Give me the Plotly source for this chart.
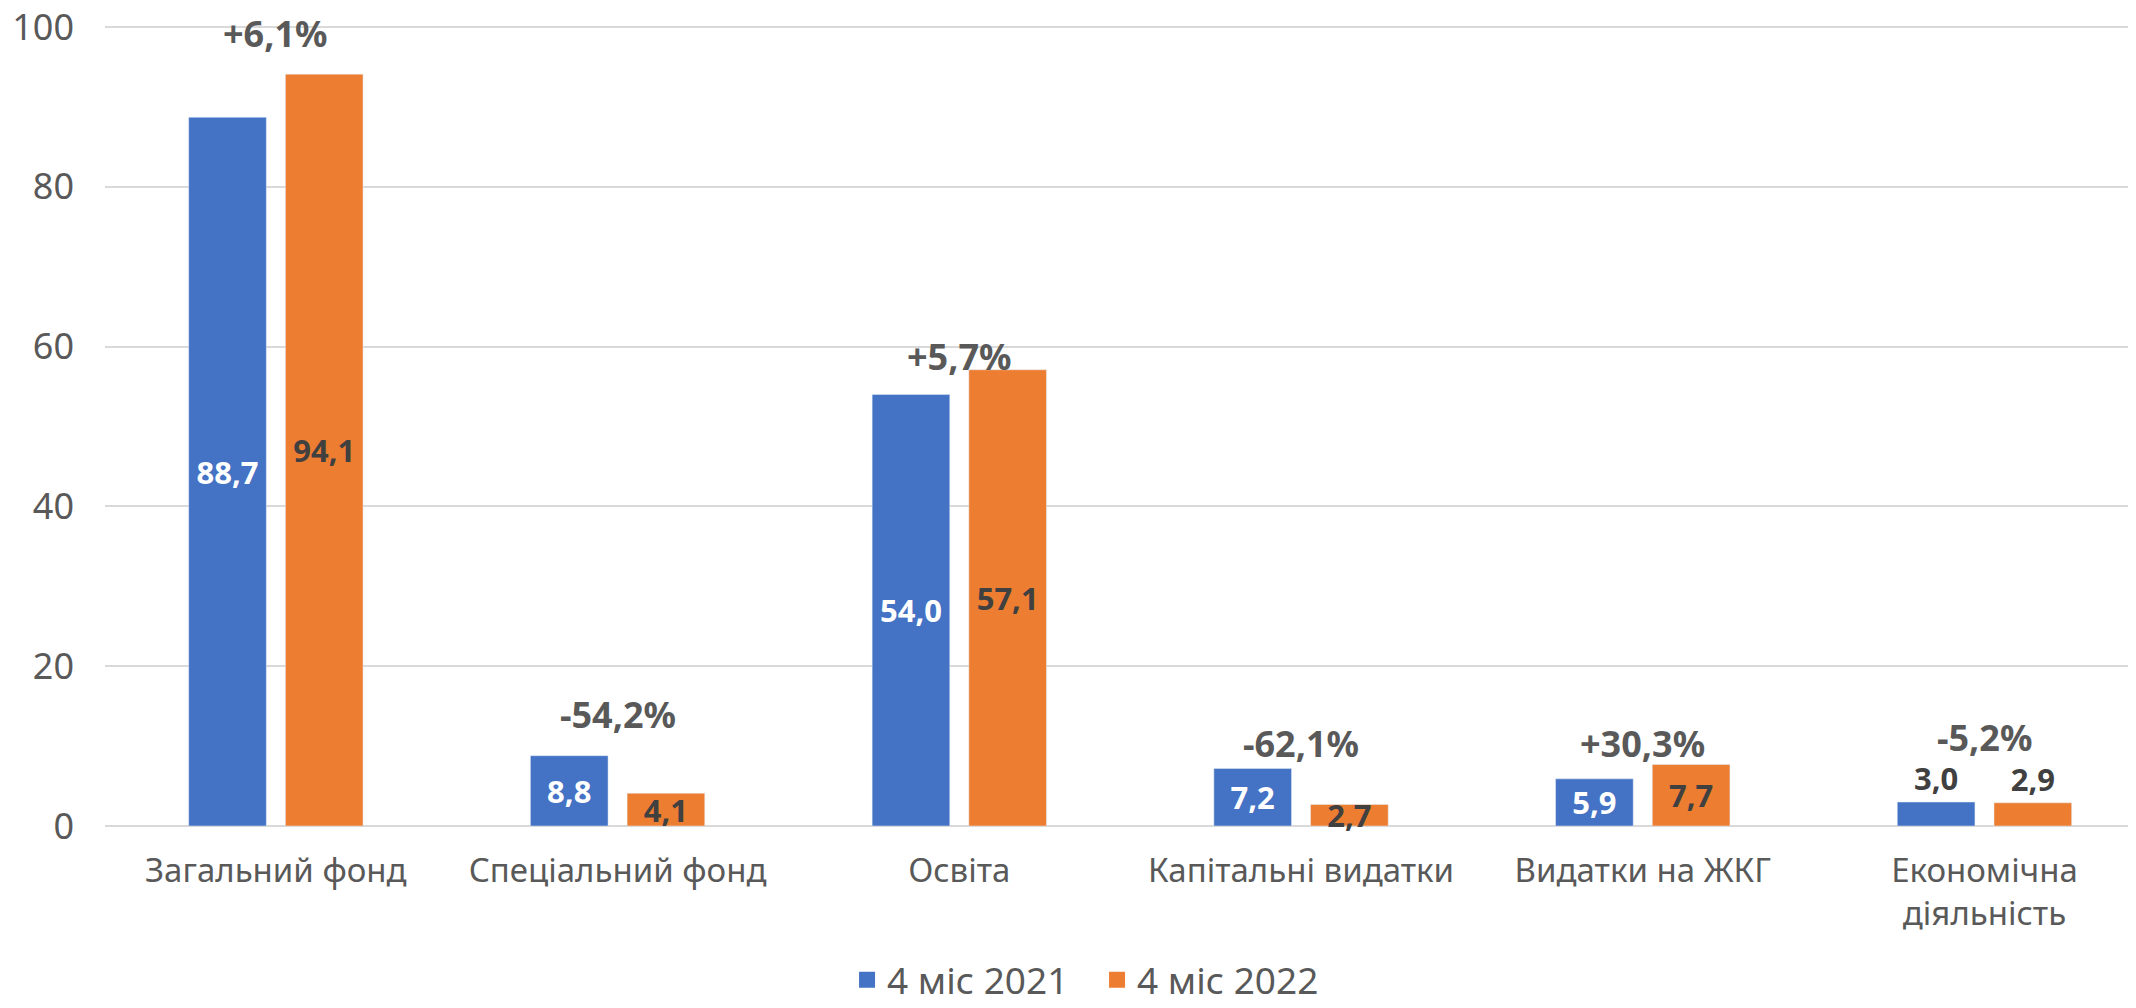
import plotly.graph_objects as go

categories = ["Загальний фонд", "Спеціальний фонд", "Освіта", "Капітальні видатки",
              "Видатки на ЖКГ", "Економічна<br>діяльність"]
series_2021 = [88.7, 8.8, 54.0, 7.2, 5.9, 3.0]
series_2022 = [94.1, 4.1, 57.1, 2.7, 7.7, 2.9]
series_names = ["4 міс 2021", "4 міс 2022"]
change_labels = ["+6,1%", "-54,2%", "+5,7%", "-62,1%", "+30,3%", "-5,2%"]
change_label_y = [99.2, 13.9, 58.7, 10.3, 10.3, 11.1]
y_ticks = [0, 20, 40, 60, 80, 100]

BLUE = "#4472C4"
ORANGE = "#ED7D31"
GRAY = "#595959"
DARK = "#404040"
FONT = "Noto Sans"

def fmt(v):
    return f"{v:.1f}".replace(".", ",")

positions = ["inside"] * 5 + ["outside"]

fig = go.Figure()
for name, vals, color, inside_col in [(series_names[0], series_2021, BLUE, "white"),
                                       (series_names[1], series_2022, ORANGE, DARK)]:
    fig.add_trace(go.Bar(
        name=name, x=categories, y=vals, marker_color=color, showlegend=False,
        text=[fmt(v) for v in vals], textposition=positions, textangle=0,
        insidetextanchor="middle", constraintext="none", cliponaxis=False,
        insidetextfont=dict(family=FONT, size=31, color=inside_col, weight="bold"),
        outsidetextfont=dict(family=FONT, size=31, color=DARK, weight="bold"),
    ))
# legend entries (square swatches)
for name, color in [(series_names[0], BLUE), (series_names[1], ORANGE)]:
    fig.add_trace(go.Scatter(
        name=name, x=[None], y=[None], mode="markers",
        marker=dict(symbol="square", size=16, color=color), showlegend=True,
    ))

for cat, lab, yy in zip(categories, change_labels, change_label_y):
    fig.add_annotation(x=cat, y=yy, text=lab, showarrow=False,
                       font=dict(family=FONT, size=36, color=GRAY, weight="bold"),
                       xanchor="center", yanchor="middle")

W, H = 2120, 992  # page body adds an 8px margin on each side
fig.update_layout(
    width=W, height=H,
    margin=dict(l=97, r=0, t=17, b=174, autoexpand=False),
    paper_bgcolor="white", plot_bgcolor="white",
    barmode="group", bargap=0.434, bargroupgap=0.197,
    font=dict(family=FONT, color=GRAY),
    showlegend=True,
    legend=dict(orientation="h", xref="container", x=0.5137, xanchor="center",
                yref="container", y=0.02, yanchor="middle",
                font=dict(family=FONT, size=37, color=GRAY),
                itemwidth=30, entrywidth=205, tracegroupgap=0, itemsizing="trace"),
)
fig.update_xaxes(range=[-0.5, 5.42], showgrid=False, zeroline=False,
                 showline=False, ticks="", ticklabelstandoff=22, automargin=False,
                 tickfont=dict(family=FONT, size=33, color=GRAY))
fig.update_yaxes(range=[0, 100.25], tickvals=y_ticks, showgrid=True,
                 gridcolor="#D9D9D9", gridwidth=2, zeroline=True,
                 zerolinecolor="#D9D9D9", zerolinewidth=2, showline=False,
                 ticks="", ticklabelstandoff=30, automargin=False,
                 ticklabeloverflow="allow",
                 tickfont=dict(family=FONT, size=36, color=GRAY))

fig.write_html("out.html")
